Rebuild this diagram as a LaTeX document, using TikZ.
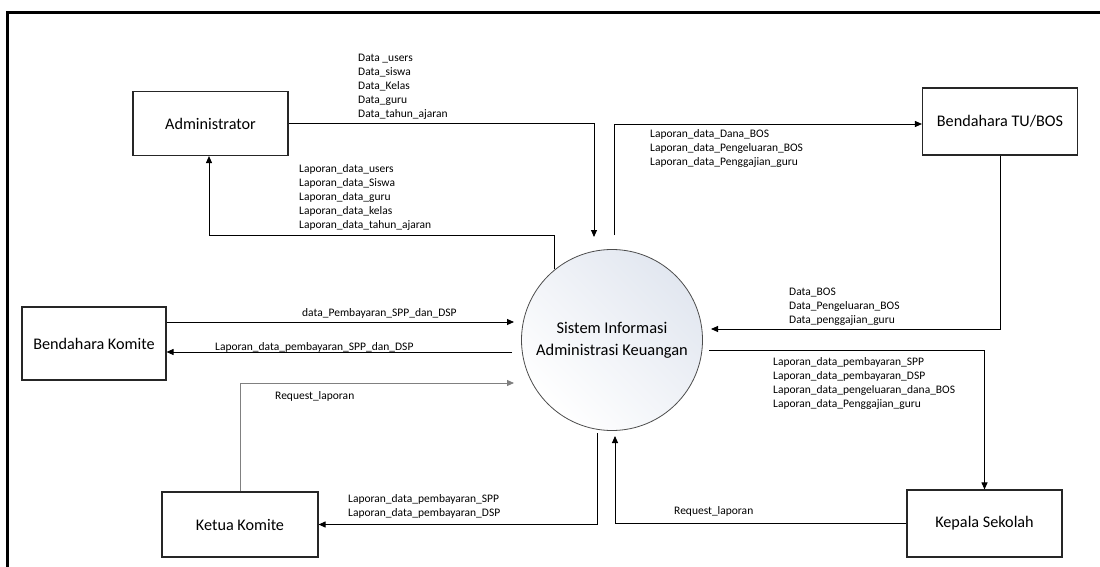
\documentclass[tikz,border=0pt]{standalone}
\usepackage{fontspec}
\setmainfont{Carlito}
\usetikzlibrary{arrows.meta}
\definecolor{bubble}{RGB}{226,231,240}
\begin{document}
\begin{tikzpicture}[x=1pt,y=-1pt,
  ent/.style={draw=black!85, line width=1.1pt, minimum width=155pt, minimum height=65pt, inner sep=0pt, font=\fontsize{16.2}{20}\selectfont},
  proc/.style={circle, draw=black!70, line width=0.8pt, minimum size=181pt, inner sep=0pt, align=center, font=\fontsize{16.4}{22}\selectfont, top color=bubble, bottom color=white, shading angle=-45},
  flow/.style={draw=black, line width=0.9pt, -{Triangle[length=7pt,width=6pt]}},
  gflow/.style={flow, draw=black!50, -{Triangle[length=7pt,width=6pt,fill=black!50]}},
  lbl/.style={anchor=west, align=left, inner sep=0pt, font=\fontsize{11.5}{14}\selectfont},
  frame/.style={line width=2.5pt, draw=black}
]
\useasboundingbox (0,0) rectangle (1100,567);
\draw[frame] (7.5,580) -- (7.5,12.5) -- (1110,12.5);

% entities
\node[ent, minimum height=64pt] (adm) at (210.5,123.5) {Administrator};
\node[ent, minimum height=67pt] (tu) at (1000,121.5) {Bendahara TU/BOS};
\node[ent, minimum width=144pt, minimum height=73pt] (bk) at (94,343.5) {Bendahara Komite};
\node[ent, minimum width=156pt] (kk) at (240,524.5) {Ketua Komite};
\node[ent, minimum height=67pt] (ks) at (984.5,523.5) {Kepala Sekolah};
\node[proc] (sys) at (612,340) {Sistem Informasi\\Administrasi Keuangan};

% free ends
\coordinate (a1) at (594,237);
\coordinate (a2) at (209,235);
\coordinate (t1) at (614,235);
\coordinate (t2) at (0,124);
\coordinate (t3) at (711,329);
\coordinate (k1) at (709,350);
\coordinate (k2) at (615,436);
\coordinate (k3) at (597,433);
\coordinate (g1) at (514,383);
\coordinate (b1) at (514,322);
\coordinate (b2) at (512,352);

% connectors
\draw[flow] (adm.east) -| (a1);
\draw[flow] (sys.129) |- (a2) -- (a2 |- adm.south);
\draw[flow] (t1) |- (tu.west |- t2);
\draw[flow] (tu.south) |- (t3);
\draw[flow] (k1) -| (ks.north);
\draw[flow] (ks.west) -| (k2);
\draw[flow] (k3) |- (kk.east);
\draw[gflow] (kk.north) |- (g1);
\draw[flow] (bk.east |- b1) -- (b1);
\draw[flow] (b2) -- (bk.east |- b2);

% labels
\node[lbl] (l1) at (358,87) {Data \_users\\Data\_siswa\\Data\_Kelas\\Data\_guru\\Data\_tahun\_ajaran};
\node[lbl] (l2) at (299,197) {Laporan\_data\_users\\Laporan\_data\_Siswa\\Laporan\_data\_guru\\Laporan\_data\_kelas\\Laporan\_data\_tahun\_ajaran};
\node[lbl] (l3) at (650,148) {Laporan\_data\_Dana\_BOS\\Laporan\_data\_Pengeluaran\_BOS\\Laporan\_data\_Penggajian\_guru};
\node[lbl] (l4) at (789,307) {Data\_BOS\\Data\_Pengeluaran\_BOS\\Data\_penggajian\_guru};
\node[lbl] (l5) at (773,383) {Laporan\_data\_pembayaran\_SPP\\Laporan\_data\_pembayaran\_DSP\\Laporan\_data\_pengeluaran\_dana\_BOS\\Laporan\_data\_Penggajian\_guru};
\node[lbl] (l6) at (302,313) {data\_Pembayaran\_SPP\_dan\_DSP};
\node[lbl] (l7) at (215,347) {Laporan\_data\_pembayaran\_SPP\_dan\_DSP};
\node[lbl] (l8) at (275,396) {Request\_laporan};
\node[lbl] (l9) at (348,506) {Laporan\_data\_pembayaran\_SPP\\Laporan\_data\_pembayaran\_DSP};
\node[lbl] (l10) at (674,511) {Request\_laporan};
\end{tikzpicture}
\end{document}
